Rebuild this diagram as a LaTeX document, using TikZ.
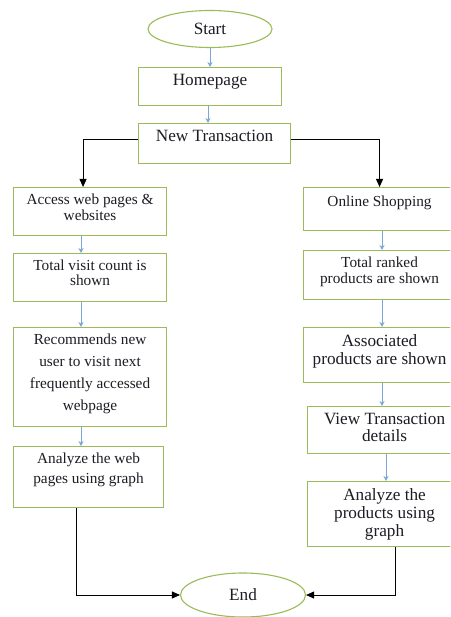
\documentclass[tikz,border=0pt]{standalone}
\usepackage{fontspec}
\setmainfont{Liberation Serif}
\usetikzlibrary{arrows.meta,shapes.geometric}
\definecolor{Frame}{HTML}{9BBB59}
\definecolor{Flow}{HTML}{7BA6D6}
\definecolor{Ink}{HTML}{1C1C24}

\begin{document}
\begin{tikzpicture}[x=1pt,y=-1pt,every node/.style={text=Ink},box/.style={draw=Frame,line width=1.1pt,fill=white,anchor=north west,inner sep=0pt},oval/.style={ellipse,draw=Frame,line width=1.1pt,fill=white,inner sep=0pt},txt/.style={anchor=north,align=center,inner sep=0pt,yshift=-7pt},small/.style={font=\fontsize{15.3}{16}\selectfont},big/.style={font=\fontsize{17.2}{18}\selectfont},flow/.style={-{Stealth[length=5pt,width=5pt]},draw=Flow,line width=1pt},branch/.style={-{Triangle[length=8pt,width=7pt]},draw=black,line width=0.9pt}]
\clip (0,0) rectangle (450,617);
\fill[white] (0,0) rectangle (450,617);
\coordinate (lx) at (81,0);
\coordinate (rx) at (382,0);
\coordinate (rx2) at (386,0);
% top of the chart
\node[oval,big,minimum width=124pt,minimum height=37pt] (start) at (210,29) {Start};
\node[box,minimum width=143pt,minimum height=38pt,label={[txt,big]north:Homepage}] (home) at (138,67) {};
\node[box,minimum width=152pt,minimum height=40pt,label={[txt,big]north:New Transaction}] (newt) at (138,123) {};
\draw[flow] (start.south) -- (start.south |- home.north);
\draw[flow] (home.south -| 208,0) -- (newt.north -| 208,0);
% left column
\node[box,minimum width=153pt,minimum height=48pt,label={[txt,small]north:Access web pages \&\\websites}] (access) at (13,187) {};
\node[box,minimum width=153pt,minimum height=48pt,label={[txt,font=\fontsize{15.3}{15}\selectfont]north:Total visit count is\\shown}] (visit) at (13,253) {};
\node[box,minimum width=153pt,minimum height=99pt,label={[txt,font=\fontsize{15.3}{22}\selectfont]north:Recommends new\\user to visit next\\frequently accessed\\webpage}] (recom) at (13,327) {};
\node[box,minimum width=150pt,minimum height=61pt,label={[txt,font=\fontsize{15.3}{20}\selectfont]north:Analyze the web\\pages using graph}] (aweb) at (13,446) {};
\draw[flow] (access.south -| lx) -- (visit.north -| lx);
\draw[flow] (visit.south -| lx) -- (recom.north -| lx);
\draw[flow] (recom.south -| lx) -- (aweb.north -| lx);
% right column
\node[box,minimum width=152pt,minimum height=43pt,label={[txt,small,yshift=-2pt]north:Online Shopping}] (online) at (303,187) {};
\node[box,minimum width=152pt,minimum height=49pt,label={[txt,small]north:Total ranked\\products are shown}] (ranked) at (303,250) {};
\node[box,minimum width=152pt,minimum height=55pt,label={[txt,big]north:Associated\\products are shown}] (assoc) at (303,327) {};
\node[box,minimum width=154pt,minimum height=47pt,label={[txt,font=\fontsize{17.2}{17}\selectfont]north:View Transaction\\details}] (view) at (307,406) {};
\node[box,minimum width=154pt,minimum height=65pt,label={[txt,big]north:Analyze the\\products using\\graph}] (anal) at (307,481) {};
\draw[flow] (online.south -| rx) -- (ranked.north -| rx);
\draw[flow] (ranked.south -| rx) -- (assoc.north -| rx);
\draw[flow] (assoc.south -| rx) -- (view.north -| rx);
\draw[flow] (view.south -| rx2) -- (anal.north -| rx2);
% branches and end
\draw[branch] ([yshift=4pt]newt.west) -| ([xshift=-7pt]access.north);
\draw[branch] ([yshift=4pt]newt.east) -| (online.north);
\node[oval,big,minimum width=125pt,minimum height=44pt] (end) at (243,595) {End};
\draw[branch] ([xshift=-12pt]aweb.south) |- (end);
\draw[branch] ([xshift=88pt]anal.south west) |- (end);
\end{tikzpicture}
\end{document}
